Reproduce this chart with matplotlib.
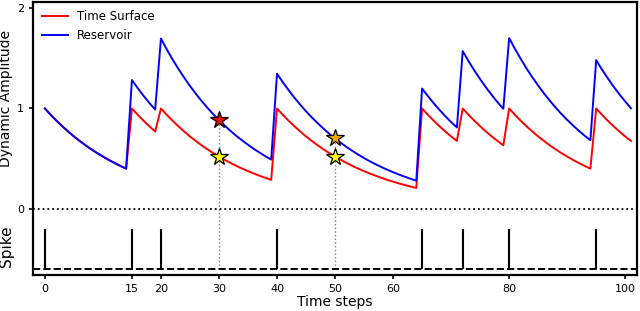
import numpy as np
import matplotlib.pyplot as plt

# data
time_steps = np.arange(0, 102)
spike_times = [0, 15, 20, 40, 65, 72, 80, 95]
xtick_vals = [0, 15, 20, 30, 40, 50, 60, 80, 100]

time_surface = [
    1.000, 0.937, 0.878, 0.823, 0.771, 0.722, 0.677, 0.634, 0.594, 0.557, 0.522, 0.489, 0.458, 0.429, 0.402,
    1.000, 0.937, 0.878, 0.823, 0.771,
    1.000, 0.937, 0.878, 0.823, 0.771, 0.722, 0.677, 0.634, 0.594, 0.557, 0.522, 0.489, 0.458, 0.429, 0.402,
    0.377, 0.353, 0.331, 0.310, 0.290,
    1.000, 0.937, 0.878, 0.823, 0.771, 0.722, 0.677, 0.634, 0.594, 0.557, 0.522, 0.489, 0.458, 0.429, 0.402,
    0.377, 0.353, 0.331, 0.310, 0.290, 0.272, 0.255, 0.239, 0.224, 0.210,
    1.000, 0.937, 0.878, 0.823, 0.771, 0.722, 0.677,
    1.000, 0.937, 0.878, 0.823, 0.771, 0.722, 0.677, 0.634,
    1.000, 0.937, 0.878, 0.823, 0.771, 0.722, 0.677, 0.634, 0.594, 0.557, 0.522, 0.489, 0.458, 0.429, 0.402,
    1.000, 0.937, 0.878, 0.823, 0.771, 0.722, 0.677,
]

reservoir = [
    1.000, 0.937, 0.878, 0.823, 0.771, 0.722, 0.677, 0.634, 0.594, 0.557, 0.522, 0.489, 0.458, 0.429, 0.402,
    1.283, 1.202, 1.126, 1.055, 0.989,
    1.695, 1.588, 1.488, 1.394, 1.307, 1.224, 1.147, 1.075, 1.007, 0.944, 0.884, 0.829, 0.776, 0.727, 0.682,
    0.639, 0.598, 0.561, 0.525, 0.492,
    1.346, 1.261, 1.182, 1.107, 1.038, 0.972, 0.911, 0.854, 0.800, 0.749, 0.702, 0.658, 0.616, 0.578, 0.541,
    0.507, 0.475, 0.445, 0.417, 0.391, 0.366, 0.343, 0.322, 0.301, 0.282,
    1.198, 1.123, 1.052, 0.986, 0.923, 0.865, 0.811,
    1.570, 1.471, 1.378, 1.292, 1.210, 1.134, 1.062, 0.996,
    1.700, 1.593, 1.493, 1.398, 1.310, 1.228, 1.150, 1.078, 1.010, 0.946, 0.887, 0.831, 0.779, 0.730, 0.684,
    1.481, 1.387, 1.300, 1.218, 1.141, 1.070, 1.002,
]

probe_times = [30, 50]
probe_colors_res = ['red', 'orange']
probe_colors_ts = ['yellow', 'yellow']

spike_base = -0.6
spike_top = -0.2

fig = plt.figure(figsize=(6.4, 3.11), dpi=100)
ax = fig.add_axes([0.052, 0.116, 0.943, 0.878])

ax.plot(time_steps, time_surface, color='red', lw=1.4, label='Time Surface')
ax.plot(time_steps, reservoir, color='blue', lw=1.4, label='Reservoir')

# zero line and spike train
ax.axhline(0, color='black', ls=':', lw=1.3)
ax.axhline(spike_base, color='black', ls='--', lw=1.4)
ax.vlines(spike_times, spike_base, spike_top, color='black', lw=1.5)

# probes
for t, cr, ct in zip(probe_times, probe_colors_res, probe_colors_ts):
    ax.plot([t, t], [spike_base, reservoir[t]], color='gray', ls=':', lw=1, zorder=1)
    ax.plot(t, reservoir[t], marker='*', ms=13, color=cr, mec='black', mew=0.9, zorder=5)
    ax.plot(t, time_surface[t], marker='*', ms=13, color=ct, mec='black', mew=0.9, zorder=5)

ax.set_xlim(-2, 102)
ax.set_ylim(-0.655, 2.06)
ax.set_xticks(xtick_vals)
ax.set_yticks([0, 1, 2])
ax.tick_params(labelsize=8, width=1.2, length=3)
for s in ax.spines.values():
    s.set_linewidth(1.6)

ax.set_xlabel('Time steps', fontsize=10, labelpad=1)
ax.text(-0.045, 0.645, 'Dynamic Amplitude', transform=ax.transAxes, rotation=90,
        ha='center', va='center', fontsize=10)
ax.text(-0.045, 0.105, 'Spike', transform=ax.transAxes, rotation=90,
        ha='center', va='center', fontsize=11)

ax.legend(loc='upper left', frameon=False, fontsize=8.5, handlelength=2.2,
          borderaxespad=0.3)

fig.savefig('out.png', dpi=100)
